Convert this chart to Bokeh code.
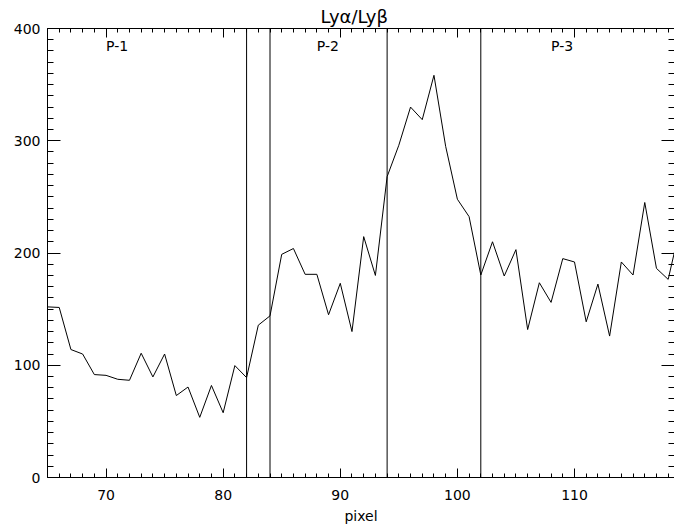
from bokeh.plotting import figure
from bokeh.models import (Range1d, LinearAxis, SingleIntervalTicker,
                          ColumnDataSource, CustomJSTickFormatter)
from bokeh.embed import file_html
from bokeh.resources import INLINE

# ---- data ----
pixel = list(range(65, 120))
ratio = [152, 151.5, 114, 110, 91.7, 91, 87.5, 86.6, 110.7, 89.6,
         110, 73, 80.6, 53.6, 82, 57.7, 99.7, 89, 135.7, 144,
         198.8, 204, 181, 181, 145, 173, 130, 214.6, 180, 268,
         296, 330, 318.8, 358.3, 295, 247.9, 232.4, 180.4, 210, 179.5,
         203, 131.8, 173.5, 156, 195, 192, 138.7, 172.3, 126, 192,
         180.4, 245, 186.3, 176.5, 222]
boundaries = [82, 84, 94, 102]
region_names = ["P-1", "P-2", "P-3"]
region_x = [70, 88, 108]
region_y = [384, 384, 384]
title_text = "Ly\u03b1/Ly\u03b2"
x_label = "pixel"

FONT = "DejaVu Sans"

p = figure(width=674, height=528, output_backend="svg", toolbar_location=None,
           x_range=Range1d(65, 118.54), y_range=Range1d(0, 400),
           min_border_left=47, min_border_right=0, min_border_top=28,
           min_border_bottom=51, background_fill_color="white",
           border_fill_color="white", outline_line_color=None)
p.grid.visible = False

# title
p.title.text = title_text
p.title.align = "left"
p.title.offset = 273
p.title.standoff = 4
p.title.text_font = FONT
p.title.text_font_size = "18px"
p.title.text_font_style = "normal"
p.title.text_color = "black"

blank = CustomJSTickFormatter(code="return ''")

def style_axis(ax, tick_in, minor_in, labels=True):
    ax.axis_line_color = "black"
    ax.axis_line_width = 1
    ax.major_tick_in = tick_in
    ax.major_tick_out = 0
    ax.minor_tick_in = minor_in
    ax.minor_tick_out = 0
    ax.major_tick_line_color = "black"
    ax.minor_tick_line_color = "black"
    if labels:
        ax.major_label_text_font = FONT
        ax.major_label_text_font_size = "14px"
        ax.major_label_text_color = "black"
    else:
        ax.formatter = blank
        ax.major_label_standoff = 0

xa = p.xaxis[0]
xa.ticker = SingleIntervalTicker(interval=10, num_minor_ticks=10)
style_axis(xa, 9, 4)
xa.major_label_standoff = 12
xa.axis_label = x_label
xa.axis_label_text_font = FONT
xa.axis_label_text_font_size = "14px"
xa.axis_label_text_font_style = "normal"
xa.axis_label_text_color = "black"
xa.axis_label_standoff = 5

ya = p.yaxis[0]
ya.ticker = SingleIntervalTicker(interval=100, num_minor_ticks=10)
style_axis(ya, 13, 6)
ya.major_label_standoff = 7

top = LinearAxis(ticker=SingleIntervalTicker(interval=10, num_minor_ticks=10))
style_axis(top, 9, 4, labels=False)
p.add_layout(top, "above")
right = LinearAxis(ticker=SingleIntervalTicker(interval=100, num_minor_ticks=10))
style_axis(right, 13, 6, labels=False)
p.add_layout(right, "right")

# data line
p.line(pixel, ratio, line_color="black", line_width=1)

# region boundaries
p.segment(x0=boundaries, y0=[0] * len(boundaries), x1=boundaries,
          y1=[400] * len(boundaries), line_color="black", line_width=1)

# region names
src = ColumnDataSource(dict(x=region_x, y=region_y, t=region_names))
p.text(x="x", y="y", text="t", source=src, text_font={"value": FONT},
       text_font_size="14px", text_color="black", text_align="left",
       text_baseline="alphabetic")

open("out.html", "w").write(file_html(p, INLINE))
